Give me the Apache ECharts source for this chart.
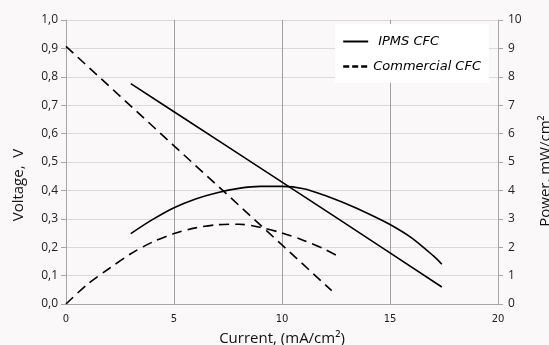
<!DOCTYPE html>
<html><head><meta charset="utf-8">
<script src="https://cdn.jsdelivr.net/npm/echarts@6/dist/echarts.min.js"></script>
<style>html,body{margin:0;padding:0;background:#faf8f9}#c{width:549px;height:345px}</style>
</head><body><div id="c"></div>
<script>
// Data
var ipmsVoltX = [3, 5, 7.5, 10, 12.5, 15, 17.4];
var ipmsVoltY = [0.776, 0.677, 0.553, 0.429, 0.305, 0.180, 0.060];
var commVoltX = [0, 2.5, 5, 7.5, 10, 12.3];
var commVoltY = [0.907, 0.732, 0.557, 0.383, 0.208, 0.047];
var ipmsPowX = [3, 4, 5, 6, 7, 8, 9, 10, 11, 12, 13, 14, 15, 16, 17, 17.4];
var ipmsPowY = [2.48, 2.97, 3.39, 3.70, 3.92, 4.07, 4.14, 4.14, 4.06, 3.82, 3.52, 3.18, 2.80, 2.33, 1.70, 1.40];
var commPowX = [0, 1, 2, 3, 4, 5, 6, 7, 8, 9, 10, 11, 12, 12.6];
var commPowY = [0, 0.70, 1.25, 1.77, 2.18, 2.48, 2.68, 2.79, 2.81, 2.70, 2.50, 2.24, 1.92, 1.68];
var seriesNames = ['IPMS CFC', 'Commercial CFC'];
var xTitle = 'Current, (mA/cm\u00B2)';
var yTitle = 'Voltage,  V';
var y2Title = 'Power, mW/cm\u00B2';

function zip(xs, ys){ return xs.map(function(x,i){ return [x, ys[i]]; }); }

var chart = echarts.init(document.getElementById('c'), null, {renderer:'canvas'});
var solid = {color:'#000', width:1.6, type:'solid'};
var dashed = {color:'#000', width:1.6, type:[10,6]};
chart.setOption({
  backgroundColor:'#faf8f9',
  animation:false,
  grid:{left:66, right:51, top:20, bottom:41, containLabel:false, outerBoundsMode:'none'},
  legend:{
    orient:'vertical', left:335, top:24,
    backgroundColor:'#ffffff', padding:[11,8,10,7], itemGap:12,
    itemWidth:25, itemHeight:14,
    data:[
      {name:seriesNames[0], textStyle:{padding:[0,0,0,5]}},
      {name:seriesNames[1], lineStyle:{type:[6,3], width:2.4}}
    ],
    itemStyle:{opacity:0},
    textStyle:{fontFamily:'DejaVu Sans', fontStyle:'italic', fontSize:13, color:'#000'}
  },
  xAxis:{
    type:'value', min:0, max:20, interval:5,
    axisLine:{show:true, lineStyle:{color:'#a6a6a6'}},
    axisTick:{show:false},
    axisLabel:{fontFamily:'DejaVu Sans', fontSize:10, color:'#222', margin:10},
    splitLine:{show:true, lineStyle:{color:'#a0a0a0', width:1}},
    name:xTitle, nameLocation:'middle', nameGap:27,
    nameTextStyle:{fontFamily:'Open Sans', fontSize:15, color:'#111'}
  },
  yAxis:[{
    type:'value', min:0, max:1, interval:0.1,
    axisLine:{show:true, lineStyle:{color:'#a6a6a6'}},
    axisTick:{show:true, length:5, lineStyle:{color:'#a6a6a6'}},
    axisLabel:{fontFamily:'Open Sans', fontSize:12, color:'#222', margin:8,
      formatter:function(v){ return v.toFixed(1).replace('.', ','); }},
    splitLine:{show:true, lineStyle:{color:'#d9d9d9', width:1}},
    name:yTitle, nameLocation:'middle', nameGap:40, nameRotate:90,
    nameTextStyle:{fontFamily:'Open Sans', fontSize:15, color:'#111', padding:[0,46,0,0]}
  },{
    type:'value', min:0, max:10, interval:1, position:'right',
    axisLine:{show:true, lineStyle:{color:'#a6a6a6'}},
    axisTick:{show:true, length:5, inside:false, lineStyle:{color:'#a6a6a6'}},
    axisLabel:{fontFamily:'Open Sans', fontSize:12, color:'#222', margin:10},
    splitLine:{show:false},
    name:y2Title, nameLocation:'middle', nameGap:40, nameRotate:90,
    nameTextStyle:{fontFamily:'Open Sans', fontSize:15, color:'#111', padding:[0,18,0,0]}
  }],
  series:[
    {name:seriesNames[0], type:'line', yAxisIndex:0, data:zip(ipmsVoltX, ipmsVoltY), symbol:'none', lineStyle:solid, itemStyle:{color:'#000'}, z:3},
    {name:seriesNames[1], type:'line', yAxisIndex:0, data:zip(commVoltX, commVoltY), symbol:'none', lineStyle:dashed, itemStyle:{color:'#000'}, z:3},
    {name:seriesNames[0], type:'line', yAxisIndex:1, data:zip(ipmsPowX, ipmsPowY), symbol:'none', smooth:0.3, lineStyle:solid, itemStyle:{color:'#000'}, z:3},
    {name:seriesNames[1], type:'line', yAxisIndex:1, data:zip(commPowX, commPowY), symbol:'none', smooth:0.3, lineStyle:dashed, itemStyle:{color:'#000'}, z:3}
  ]
});
</script></body></html>
